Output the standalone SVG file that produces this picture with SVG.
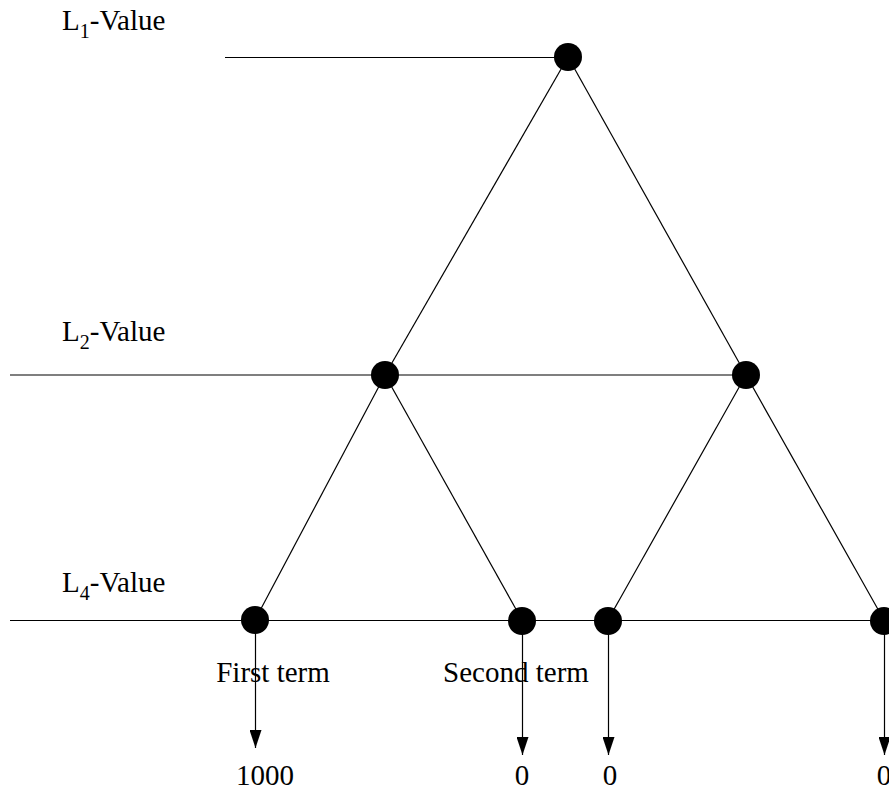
<svg xmlns="http://www.w3.org/2000/svg" width="889" height="791" viewBox="0 0 889 791">
<style>
.ln{stroke:#000;stroke-width:1.2;fill:none}
.nd{fill:#000}
text{font-family:"Liberation Serif","Times New Roman",serif;font-size:29px;fill:#000}
.sub{font-size:20px}
</style>
<defs>
<marker id="ah" markerWidth="18" markerHeight="12" refX="18" refY="6" orient="auto" markerUnits="userSpaceOnUse" viewBox="0 0 18 12">
<path d="M0,0 L18,6 L0,12 Z" fill="#000"/>
</marker>
</defs>
<rect width="889" height="791" fill="#fff"/>
<g id="labels">
<text x="62" y="30">L<tspan class="sub" dy="8">1</tspan><tspan dy="-8">-Value</tspan></text>
<text x="62" y="341">L<tspan class="sub" dy="8">2</tspan><tspan dy="-8">-Value</tspan></text>
<text x="62" y="592">L<tspan class="sub" dy="8">4</tspan><tspan dy="-8">-Value</tspan></text>
</g>
<g id="connectors">
<line class="ln" x1="225" y1="57.5" x2="568" y2="57.5"/>
<line class="ln" x1="10" y1="375" x2="746" y2="375"/>
<line class="ln" x1="10" y1="620.5" x2="889" y2="620.5"/>
<line class="ln" x1="568" y1="57" x2="385" y2="375"/>
<line class="ln" x1="568" y1="57" x2="746" y2="375"/>
<line class="ln" x1="385" y1="375" x2="255" y2="620"/>
<line class="ln" x1="385" y1="375" x2="522" y2="620"/>
<line class="ln" x1="746" y1="375" x2="608" y2="620"/>
<line class="ln" x1="746" y1="375" x2="884" y2="620"/>
<line class="ln" x1="255.5" y1="620" x2="255.5" y2="748" marker-end="url(#ah)"/>
<line class="ln" x1="522.5" y1="620" x2="522.5" y2="755" marker-end="url(#ah)"/>
<line class="ln" x1="608.5" y1="620" x2="608.5" y2="755" marker-end="url(#ah)"/>
<line class="ln" x1="884.5" y1="620" x2="884.5" y2="755" marker-end="url(#ah)"/>
</g>
<g id="n1"><circle class="nd" cx="568" cy="57" r="14"/></g>
<g id="n2"><circle class="nd" cx="385" cy="375" r="14"/></g>
<g id="n3"><circle class="nd" cx="746" cy="375" r="14"/></g>
<g id="n4"><circle class="nd" cx="255" cy="620" r="14"/></g>
<g id="n5"><circle class="nd" cx="522" cy="621" r="14"/></g>
<g id="n6"><circle class="nd" cx="608" cy="621" r="14"/></g>
<g id="n7"><circle class="nd" cx="884" cy="621" r="14"/></g>
<g id="terms">
<text x="273" y="682" text-anchor="middle">First term</text>
<text x="516" y="682" text-anchor="middle">Second term</text>
<text x="265" y="785" text-anchor="middle">1000</text>
<text x="522" y="785" text-anchor="middle">0</text>
<text x="610" y="785" text-anchor="middle">0</text>
<text x="884" y="785" text-anchor="middle">0</text>
</g>
</svg>
